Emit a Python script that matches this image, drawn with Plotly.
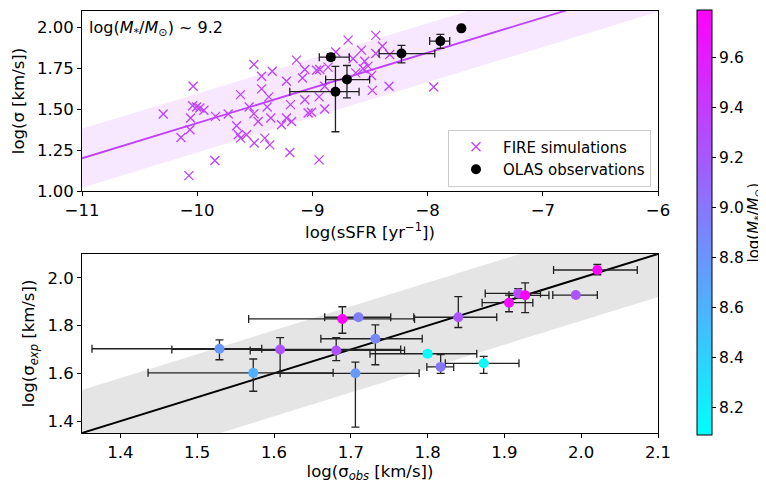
import plotly.graph_objects as go

# ---------------- top panel data ----------------
fire_ssfr = [-10.295, -10.035, -10.04, -10.005, -9.977, -9.942, -10.057, -10.063, -10.141, -10.072,
             -9.847, -9.841, -9.731, -9.624, -9.658, -9.644, -9.624, -9.572, -9.505, -9.413,
             -9.370, -9.549, -9.508, -9.471, -9.393, -9.361, -9.508, -9.441, -9.441, -9.378,
             -9.349, -9.196, -9.225, -9.190, -9.138, -9.086, -9.066, -9.066, -9.037, -9.225,
             -9.181, -9.268, -8.450, -8.690, -8.964, -8.936, -8.864, -8.797, -8.574, -8.392,
             -8.329, -8.647, -8.546, -8.517, -8.560, -8.487, -8.450, -8.624, -8.893, -8.480,
             -8.335, -7.947, -8.942, -8.893, -9.008, -8.942]
fire_sigma = [1.471, 1.640, 1.521, 1.513, 1.507, 1.493, 1.446, 1.374, 1.327, 1.094,
              1.186, 1.456, 1.471, 1.589, 1.399, 1.344, 1.323, 1.344, 1.293, 1.323,
              1.282, 1.513, 1.472, 1.425, 1.513, 1.446, 1.773, 1.701, 1.624, 1.575,
              1.732, 1.235, 1.671, 1.528, 1.800, 1.691, 1.742, 1.558, 1.477, 1.446,
              1.425, 1.405, 1.951, 1.922, 1.738, 1.742, 1.757, 1.849, 1.861, 1.885,
              1.834, 1.808, 1.793, 1.763, 1.747, 1.706, 1.840, 1.722, 1.640, 1.615,
              1.640, 1.636, 1.575, 1.501, 1.481, 1.190]

olas_ssfr = [-8.84, -8.80, -8.70, -8.227, -7.889, -7.707]
olas_sigma = [1.818, 1.607, 1.681, 1.840, 1.916, 1.994]
olas_ssfr_err_minus = [0.10, 0.396, 0.185, 0.194, 0.093, 0.02]
olas_ssfr_err_plus = [0.16, 0.205, 0.197, 0.289, 0.081, 0.02]
olas_sigma_err_minus = [0.02, 0.245, 0.112, 0.057, 0.045, 0.012]
olas_sigma_err_plus = [0.02, 0.155, 0.086, 0.050, 0.041, 0.012]

fit_x = [-11.0, -6.0]
fit_intercept_at_m11 = 1.20
fit_slope = 0.215
fit_scatter = 0.18

# ---------------- bottom panel data ----------------
sig_obs = [1.529, 1.608, 1.681, 1.573, 1.706, 1.689, 1.710, 1.732, 1.800,
           1.817, 1.873, 1.840, 1.906, 1.918, 1.927, 1.993, 2.021]
sig_exp = [1.703, 1.700, 1.696, 1.602, 1.600, 1.828, 1.835, 1.745, 1.682,
           1.627, 1.642, 1.835, 1.896, 1.935, 1.927, 1.928, 2.033]
obs_err_minus = [0.166, 0.141, 0.112, 0.137, 0.098, 0.122, 0.044, 0.071, 0.075,
                 0.018, 0.050, 0.058, 0.035, 0.043, 0.021, 0.030, 0.057]
obs_err_plus = [0.055, 0.157, 0.089, 0.104, 0.083, 0.094, 0.042, 0.061, 0.064,
                0.017, 0.046, 0.050, 0.031, 0.029, 0.031, 0.028, 0.052]
exp_err_minus = [0.046, 0.100, 0.043, 0.077, 0.225, 0.060, 0.010, 0.109, 0.010,
                 0.027, 0.042, 0.043, 0.038, 0.020, 0.073, 0.006, 0.020]
exp_err_plus = [0.037, 0.050, 0.054, 0.058, 0.047, 0.051, 0.010, 0.058, 0.010,
                0.051, 0.029, 0.086, 0.032, 0.020, 0.052, 0.006, 0.023]
log_mstar = [8.77, 9.23, 9.25, 8.62, 8.77, 9.78, 8.95, 8.88, 8.09,
             9.00, 8.12, 9.22, 9.72, 9.28, 9.76, 9.22, 9.77]

one_to_one_x = [1.35, 2.1]
one_to_one_scatter = 0.18

cbar_min, cbar_max = 8.09, 9.79
cbar_ticks = [8.2, 8.4, 8.6, 8.8, 9.0, 9.2, 9.4, 9.6]

FONT = "DejaVu Sans"
FS = 16.5
PURPLE = "#bf40ff"

# page body has an 8px margin: figure is laid out in a 758x475 box
W, H = 758, 475
L, R, T, B = 74, 108, 2, 50
PH = H - T - B            # plot-area height
PW = W - L - R            # plot-area width


def fy(py):               # target screenshot y pixel -> paper fraction
    return (H - B - (py - 8)) / PH


def fx(px):               # target screenshot x pixel -> paper fraction
    return (px - 8 - L) / PW


fig = go.Figure()

# top band
fit_y = [fit_intercept_at_m11 + fit_slope * (x + 11.0) for x in fit_x]
band_x = fit_x + fit_x[::-1]
band_y = [y + fit_scatter for y in fit_y] + [y - fit_scatter for y in fit_y[::-1]]
fig.add_trace(go.Scatter(x=band_x, y=band_y, fill="toself", mode="none",
                         fillcolor="rgba(191,64,255,0.12)", showlegend=False,
                         hoverinfo="skip", xaxis="x", yaxis="y"))
fig.add_trace(go.Scatter(x=fit_x, y=fit_y, mode="lines", line=dict(color=PURPLE, width=1.8),
                         showlegend=False, xaxis="x", yaxis="y"))
fig.add_trace(go.Scatter(x=fire_ssfr, y=fire_sigma, mode="markers", name="FIRE simulations",
                         marker=dict(symbol="x-thin", size=9, line=dict(color=PURPLE, width=1.3)),
                         xaxis="x", yaxis="y"))
fig.add_trace(go.Scatter(x=olas_ssfr, y=olas_sigma, mode="markers", name="OLAS observations",
                         marker=dict(color="black", size=10),
                         error_x=dict(type="data", symmetric=False, array=olas_ssfr_err_plus,
                                      arrayminus=olas_ssfr_err_minus, color="#222222",
                                      thickness=1.3, width=4),
                         error_y=dict(type="data", symmetric=False, array=olas_sigma_err_plus,
                                      arrayminus=olas_sigma_err_minus, color="#222222",
                                      thickness=1.3, width=4),
                         xaxis="x", yaxis="y"))

# bottom band + 1:1 line
b_band_x = one_to_one_x + one_to_one_x[::-1]
b_band_y = [v + one_to_one_scatter for v in one_to_one_x] + \
           [v - one_to_one_scatter for v in one_to_one_x[::-1]]
fig.add_trace(go.Scatter(x=b_band_x, y=b_band_y, fill="toself", mode="none",
                         fillcolor="#e5e5e5", showlegend=False, hoverinfo="skip",
                         xaxis="x2", yaxis="y2"))
fig.add_trace(go.Scatter(x=one_to_one_x, y=one_to_one_x, mode="lines",
                         line=dict(color="black", width=2), showlegend=False,
                         xaxis="x2", yaxis="y2"))
fig.add_trace(go.Scatter(
    x=sig_obs, y=sig_exp, mode="markers", showlegend=False,
    marker=dict(color=log_mstar, colorscale=[[0, "#00ffff"], [1, "#ff00ff"]],
                cmin=cbar_min, cmax=cbar_max, size=10,
                colorbar=dict(x=fx(697), xanchor="left", xpad=0,
                              y=fy(222.5), yanchor="middle", ypad=0,
                              len=425, lenmode="pixels", thickness=15,
                              outlinewidth=1, outlinecolor="black",
                              tickvals=cbar_ticks, ticktext=[f"{t:.1f}" for t in cbar_ticks],
                              ticks="outside", ticklen=4, tickcolor="black",
                              tickfont=dict(family=FONT, size=15.5, color="black"))),
    error_x=dict(type="data", symmetric=False, array=obs_err_plus, arrayminus=obs_err_minus,
                 color="#222222", thickness=1.3, width=4),
    error_y=dict(type="data", symmetric=False, array=exp_err_plus, arrayminus=exp_err_minus,
                 color="#222222", thickness=1.3, width=4),
    xaxis="x2", yaxis="y2"))

axis_common = dict(showline=True, mirror=True, linecolor="black", linewidth=1,
                   ticks="outside", ticklen=4, tickcolor="black", showgrid=False,
                   zeroline=False, tickfont=dict(family=FONT, size=FS, color="black"))

fig.update_layout(
    width=W, height=H,
    margin=dict(l=L, r=R, t=T, b=B, autoexpand=False),
    paper_bgcolor="white", plot_bgcolor="white",
    font=dict(family=FONT, size=FS, color="black"),
    xaxis=dict(domain=[0, 1], anchor="y", range=[-11, -6], tickvals=[-11, -10, -9, -8, -7, -6],
               title=dict(text="log(sSFR [yr<sup>−1</sup>])", standoff=4,
                          font=dict(family=FONT, size=FS)), **axis_common),
    yaxis=dict(domain=[fy(191), fy(11)], anchor="x", range=[1.0, 2.1],
               tickvals=[1.0, 1.25, 1.5, 1.75, 2.0], ticktext=["1.00", "1.25", "1.50", "1.75", "2.00"],
               title=dict(text="log(σ [km/s])", standoff=8, font=dict(family=FONT, size=FS)),
               **axis_common),
    xaxis2=dict(domain=[0, 1], anchor="y2", range=[1.35, 2.1],
                tickvals=[1.4, 1.5, 1.6, 1.7, 1.8, 1.9, 2.0, 2.1],
                ticktext=["1.4", "1.5", "1.6", "1.7", "1.8", "1.9", "2.0", "2.1"],
                title=dict(text="log(σ<sub><i>obs</i></sub> [km/s])", standoff=4,
                           font=dict(family=FONT, size=FS)), **axis_common),
    yaxis2=dict(domain=[0, fy(254)], anchor="x2", range=[1.35, 2.1],
                tickvals=[1.4, 1.6, 1.8, 2.0], ticktext=["1.4", "1.6", "1.8", "2.0"],
                title=dict(text="log(σ<sub><i>exp</i></sub> [km/s])", standoff=8,
                           font=dict(family=FONT, size=FS)), **axis_common),
    legend=dict(x=fx(651), xanchor="right", y=fy(158), yanchor="middle",
                bgcolor="white", bordercolor="#cccccc", borderwidth=1, itemwidth=44,
                font=dict(family=FONT, size=15, color="black")),
    annotations=[
        dict(text="log(<i>M</i><sub>*</sub>/<i>M</i><sub>⊙</sub>) ~ 9.2", xref="paper", yref="paper",
             x=fx(87), y=fy(28.5), xanchor="left", yanchor="middle",
             showarrow=False, font=dict(family=FONT, size=16, color="black")),
        dict(text="log(<i>M</i><sub>*</sub>/<i>M</i><sub>⊙</sub>)", xref="paper", yref="paper",
             x=fx(754), y=fy(222.5), xanchor="center", yanchor="middle",
             textangle=-90, showarrow=False, borderpad=0,
             font=dict(family=FONT, size=15, color="black")),
    ],
)

fig.write_html("out.html")
